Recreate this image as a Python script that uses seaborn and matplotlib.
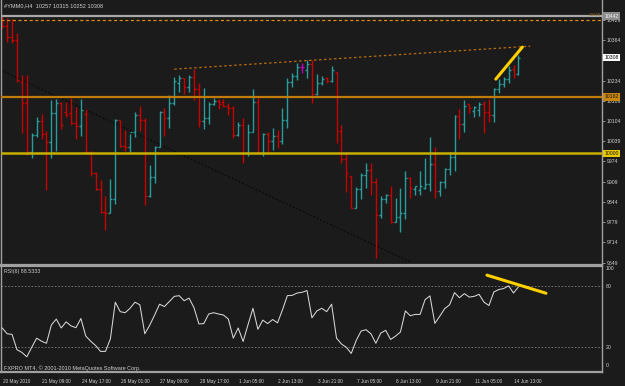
import numpy as np
import pandas as pd
import matplotlib
matplotlib.use("Agg")
import matplotlib.pyplot as plt
import matplotlib.transforms as mtransforms
import seaborn as sns

# ---------------- data ----------------
symbol_title = "#YMM0,H4  10257 10315 10252 10308"
rsi_title = "RSI(6) 88.5333"
copyright_txt = "FXPRO MT4, \u00a9 2001-2010 MetaQuotes Software Corp."

bar_open = [10442, 10410, 10374, 10365, 10230, 10162, 10005, 10059, 10104, 10062,
            10037, 10130, 10162, 10133, 10130, 10098, 10088, 10127, 10005, 9937,
            9885, 9812, 9808, 9853, 10107, 10024, 10021, 10069, 10124, 10107,
            9863, 9924, 10021, 10133, 10114, 10162, 10226, 10243, 10214, 10246,
            10207, 10104, 10114, 10159, 10169, 10165, 10152, 10146, 10059, 10091,
            10001, 10069, 10165, 10001, 10062, 10040, 10056, 10040, 10107, 10230,
            10249, 10278, 10268, 10288, 10191, 10226, 10243, 10233, 10262, 10072,
            9982, 9927, 9824, 9885, 9930, 9947, 9908, 9802, 9853, 9866,
            9779, 9795, 9808, 9921, 9885, 9882, 9889, 9902, 9966, 9879,
            9908, 9950, 9988, 10120, 10095, 10159, 10136, 10139, 10159, 10133,
            10124, 10207, 10223, 10239, 10271, 10257]
bar_high = [10445, 10436, 10432, 10387, 10252, 10252, 10066, 10117, 10127, 10072,
            10172, 10175, 10165, 10165, 10178, 10149, 10175, 10143, 10008, 9940,
            9914, 9863, 9918, 10111, 10107, 10075, 10062, 10133, 10153, 10114,
            9963, 10024, 10136, 10146, 10188, 10246, 10252, 10243, 10252, 10272,
            10226, 10210, 10165, 10178, 10175, 10175, 10162, 10152, 10101, 10114,
            10095, 10207, 10178, 10066, 10069, 10082, 10075, 10146, 10243, 10259,
            10291, 10291, 10300, 10300, 10255, 10249, 10246, 10281, 10262, 10091,
            9998, 9927, 9892, 9937, 9969, 9969, 9921, 9863, 9869, 9895,
            9857, 9889, 9943, 9924, 9895, 9943, 9985, 10053, 10021, 9911,
            9953, 10005, 10124, 10143, 10172, 10159, 10152, 10165, 10169, 10175,
            10210, 10239, 10246, 10281, 10284, 10315]
bar_low = [10403, 10358, 10355, 10230, 10066, 9995, 9985, 10053, 10046, 9882,
           9985, 10008, 10078, 10117, 10091, 10046, 10056, 10001, 9927, 9882,
           9808, 9754, 9808, 9837, 10021, 10008, 10005, 10053, 10072, 9834,
           9860, 9905, 10021, 10056, 10082, 10156, 10198, 10191, 10198, 10172,
           10085, 10079, 10095, 10156, 10143, 10149, 10124, 10050, 10056, 9969,
           9992, 10069, 10001, 9992, 10001, 10011, 10017, 10030, 10082, 10214,
           10236, 10259, 10243, 10162, 10188, 10220, 10226, 10230, 10033, 9969,
           9876, 9824, 9824, 9853, 9889, 9866, 9663, 9792, 9840, 9776,
           9779, 9747, 9789, 9857, 9866, 9866, 9885, 9879, 9857, 9863,
           9889, 9930, 9943, 10046, 10069, 10130, 10117, 10120, 10066, 10101,
           10101, 10194, 10214, 10226, 10243, 10252]
bar_close = [10410, 10374, 10365, 10236, 10162, 10005, 10059, 10104, 10062, 10037,
             10130, 10162, 10091, 10124, 10098, 10088, 10140, 10005, 9937, 9885,
             9812, 9808, 9853, 10107, 10024, 10021, 10069, 10124, 10107, 9863,
             9924, 10021, 10133, 10114, 10162, 10233, 10243, 10214, 10246, 10207,
             10104, 10114, 10159, 10169, 10159, 10152, 10146, 10059, 10091, 10001,
             10069, 10165, 10001, 10062, 10040, 10056, 10040, 10107, 10230, 10249,
             10278, 10278, 10288, 10191, 10226, 10239, 10233, 10268, 10072, 9982,
             9937, 9824, 9885, 9930, 9947, 9908, 9802, 9853, 9866, 9779,
             9795, 9808, 9921, 9889, 9895, 9895, 9902, 9966, 9879, 9908,
             9950, 9988, 10120, 10095, 10153, 10146, 10149, 10159, 10133, 10124,
             10207, 10223, 10239, 10268, 10257, 10308]

rsi_values = [39, 33.3, 32.7, 17.7, 15, 10.7, 20, 29, 26, 24,
              42, 47.7, 39, 45, 41, 39.3, 48.3, 31, 26, 21.7,
              16, 16, 28.3, 64.3, 55, 54, 58.3, 64.3, 61.7, 33.3,
              41.7, 51.7, 62.3, 60, 65, 70, 70.7, 65.7, 68.3, 59,
              43, 43.3, 52.7, 54, 52.7, 51.7, 47.7, 29, 39, 25.7,
              42.3, 58.3, 37.7, 46.7, 43.3, 47.3, 44, 56.7, 70.7, 71,
              73.3, 74, 75.7, 49, 55.7, 58.3, 55, 62.3, 29, 23.3,
              20, 14, 26.7, 36, 37.3, 33.3, 24, 34, 36.7, 27.7,
              31, 35, 55.7, 51, 52.3, 52.3, 66.7, 70.5, 43.5, 50.5,
              58, 61.7, 73.7, 68.7, 72.7, 69.3, 70, 72, 64.3, 61,
              74.3, 76.7, 77.7, 80.3, 73.3, 79.3]

tick_bars = [0, 8, 16, 24, 32, 40, 48, 56, 64, 72, 80, 88, 96, 104]
tick_labels = ["20 May 2010", "21 May 09:00", "24 May 17:00", "26 May 01:00",
               "27 May 09:00", "28 May 17:00", "1 Jun 05:00", "2 Jun 13:00",
               "3 Jun 21:00", "7 Jun 05:00", "8 Jun 13:00", "9 Jun 21:00",
               "11 Jun 05:00", "14 Jun 13:00"]

price_ticks = [10429, 10364, 10234, 10169, 10104, 10039, 9974, 9909, 9844, 9779, 9714, 9649]
top_level = 10442
dotted_level = 10429
resistance_level = 10182
support_level = 10000
last_price = 10308
trend_bars = [35, 107.4]
trend_prices = [10271, 10345]
diag_bars = [-0.3, 83]
diag_prices = [10268, 9651]
price_mark_bars = [100.4, 105.8]
price_mark_prices = [10239, 10342]
rsi_mark_bars = [98.6, 110.6]
rsi_mark_values = [90.8, 73.1]
rsi_levels = [80, 20]
rsi_axis_labels = [100, 80, 20, 0]

# ---------------- style ----------------
BG = "#1b1b1b"
TEAL = "#2a9c9c"
RED = "#c80000"
DOJI = "#c000c0"
GRAY = "#a0a0a0"
TXT = "#cfcfcf"

sns.set_style("dark", rc={"axes.facecolor": BG, "figure.facecolor": BG,
                          "axes.edgecolor": GRAY, "text.color": TXT,
                          "xtick.color": GRAY, "ytick.color": GRAY,
                          "axes.grid": False})
plt.rcParams['font.family'] = ['Liberation Sans', 'DejaVu Sans']

W, H = 625.0, 386.0
fig = plt.figure(figsize=(6.25, 3.86), dpi=100, facecolor=BG)
ax = fig.add_axes([0.5 / W, 1 - 265 / H, 601.5 / W, 265 / H])
ax2 = fig.add_axes([0.5 / W, 1 - 372 / H, 601.5 / W, 106 / H])

df = pd.DataFrame({"open": bar_open, "high": bar_high, "low": bar_low, "close": bar_close})
df["bar"] = np.arange(len(df))
df["color"] = np.where(df.close > df.open, TEAL, np.where(df.close < df.open, RED, DOJI))

XL = (-0.35, 122.0)

# ---------------- price panel ----------------
ax.set_facecolor(BG)
ax.vlines(df.bar, df.low, df.high, colors=df.color, lw=1.0, zorder=2)
ax.hlines(df.open, df.bar - 0.4, df.bar, colors=df.color, lw=1.0, zorder=2)
ax.hlines(df.close, df.bar, df.bar + 0.4, colors=df.color, lw=1.0, zorder=2)

ax.plot(diag_bars, diag_prices, color="#0a0a0a", lw=0.9, ls=(0, (1.5, 1.5)), zorder=1)
ax.axhline(top_level, color="#a8a8a8", lw=1.6, zorder=3)
ax.axhline(dotted_level, color="#d88a10", lw=0.9, ls=(0, (2.5, 2)), zorder=3)
ax.axhline(resistance_level, color="#c07c08", lw=1.6, zorder=3)
ax.axhline(support_level, color="#c8b000", lw=1.8, zorder=3)
ax.plot(trend_bars, trend_prices, color="#b86c10", lw=0.9, ls=(0, (2, 2)), zorder=3)
sns.lineplot(x=price_mark_bars, y=price_mark_prices, ax=ax, color="#ffd000", lw=2.2,
             zorder=4, legend=False)

ax.set_xlim(*XL)
ax.set_ylim(9641, 10493.5)
ax.set_xticks([])
ax.yaxis.tick_right()
ax.set_yticks(price_ticks)
ax.set_yticklabels([str(v) for v in price_ticks])
ax.tick_params(axis="y", direction="out", length=2, width=0.6, color=GRAY,
               labelsize=3.7, labelcolor=TXT, pad=1.5)
ax.set_xlabel("")
ax.set_ylabel("")
for s in ["left", "right", "bottom"]:
    ax.spines[s].set_color(GRAY)
    ax.spines[s].set_linewidth(1.0)
ax.spines["bottom"].set_linewidth(1.6)
ax.spines["top"].set_visible(False)

ytr = mtransforms.blended_transform_factory(ax.transAxes, ax.transData)
boxes = [(top_level, "#8c8c8c", "#f4f4f4"), (last_price, "#ffffff", "#000000"),
         (resistance_level, "#c8860a", "#1a1a1a"), (support_level, "#e8c800", "#1a1a1a")]
for val, fc, tc in boxes:
    ax.text(1.004, val, str(val), transform=ytr, ha="left", va="center", fontsize=3.7,
            color=tc, clip_on=False, zorder=6,
            bbox=dict(boxstyle="square,pad=0.25", fc=fc, ec="none"))
ax.text(0.998, dotted_level + 9, "10430", transform=ytr, ha="right", va="bottom",
        fontsize=3.2, color="#9a6a20", zorder=6)

fig.text(4 / W, 1 - 5.5 / H, symbol_title, ha="left", va="center", fontsize=4.1, color=TXT)

# ---------------- RSI panel ----------------
ax2.set_facecolor(BG)
for lv in rsi_levels:
    ax2.axhline(lv, color="#7a7a7a", lw=0.6, ls=(0, (2, 2)), zorder=1)
sns.lineplot(x=np.arange(len(rsi_values)), y=rsi_values, ax=ax2, color="#d6d6d6",
             lw=0.75, zorder=3, legend=False)
sns.lineplot(x=rsi_mark_bars, y=rsi_mark_values, ax=ax2, color="#ffd000", lw=2.2,
             zorder=4, legend=False)
ax2.set_xlim(*XL)
ax2.set_ylim(-4.2, 99.8)
ax2.set_yticks([])
ax2.set_xlabel("")
ax2.set_ylabel("")
for s in ["left", "right", "bottom", "top"]:
    ax2.spines[s].set_color(GRAY)
    ax2.spines[s].set_linewidth(1.0)
ax2.spines["top"].set_linewidth(1.6)
ax2.spines["bottom"].set_linewidth(1.6)

ax2.set_xticks(tick_bars)
ax2.set_xticklabels([])
ax2.tick_params(axis="x", direction="in", length=2.5, width=0.6, color=GRAY)
xtr = mtransforms.blended_transform_factory(ax2.transData, ax2.transAxes)
for b, lab in zip(tick_bars, tick_labels):
    ax2.text(b + 0.15, -0.085, lab, transform=xtr, ha="left", va="center",
             fontsize=3.4, color=TXT, clip_on=False)

ytr2 = mtransforms.blended_transform_factory(ax2.transAxes, ax2.transData)
for v in rsi_axis_labels:
    va = "top" if v == 100 else ("bottom" if v == 0 else "center")
    ax2.text(1.006, v, str(v), transform=ytr2, ha="left", va=va, fontsize=3.7,
             color=TXT, clip_on=False)

ax2.text(4 / 601.5, 0.95, rsi_title, transform=ax2.transAxes, ha="left", va="center",
         fontsize=3.8, color=TXT)
ax2.text(3 / 601.5, 0.035, copyright_txt, transform=ax2.transAxes, ha="left",
         va="center", fontsize=4.0, color=TXT)

fig.savefig("out.png", dpi=100, facecolor=BG)
